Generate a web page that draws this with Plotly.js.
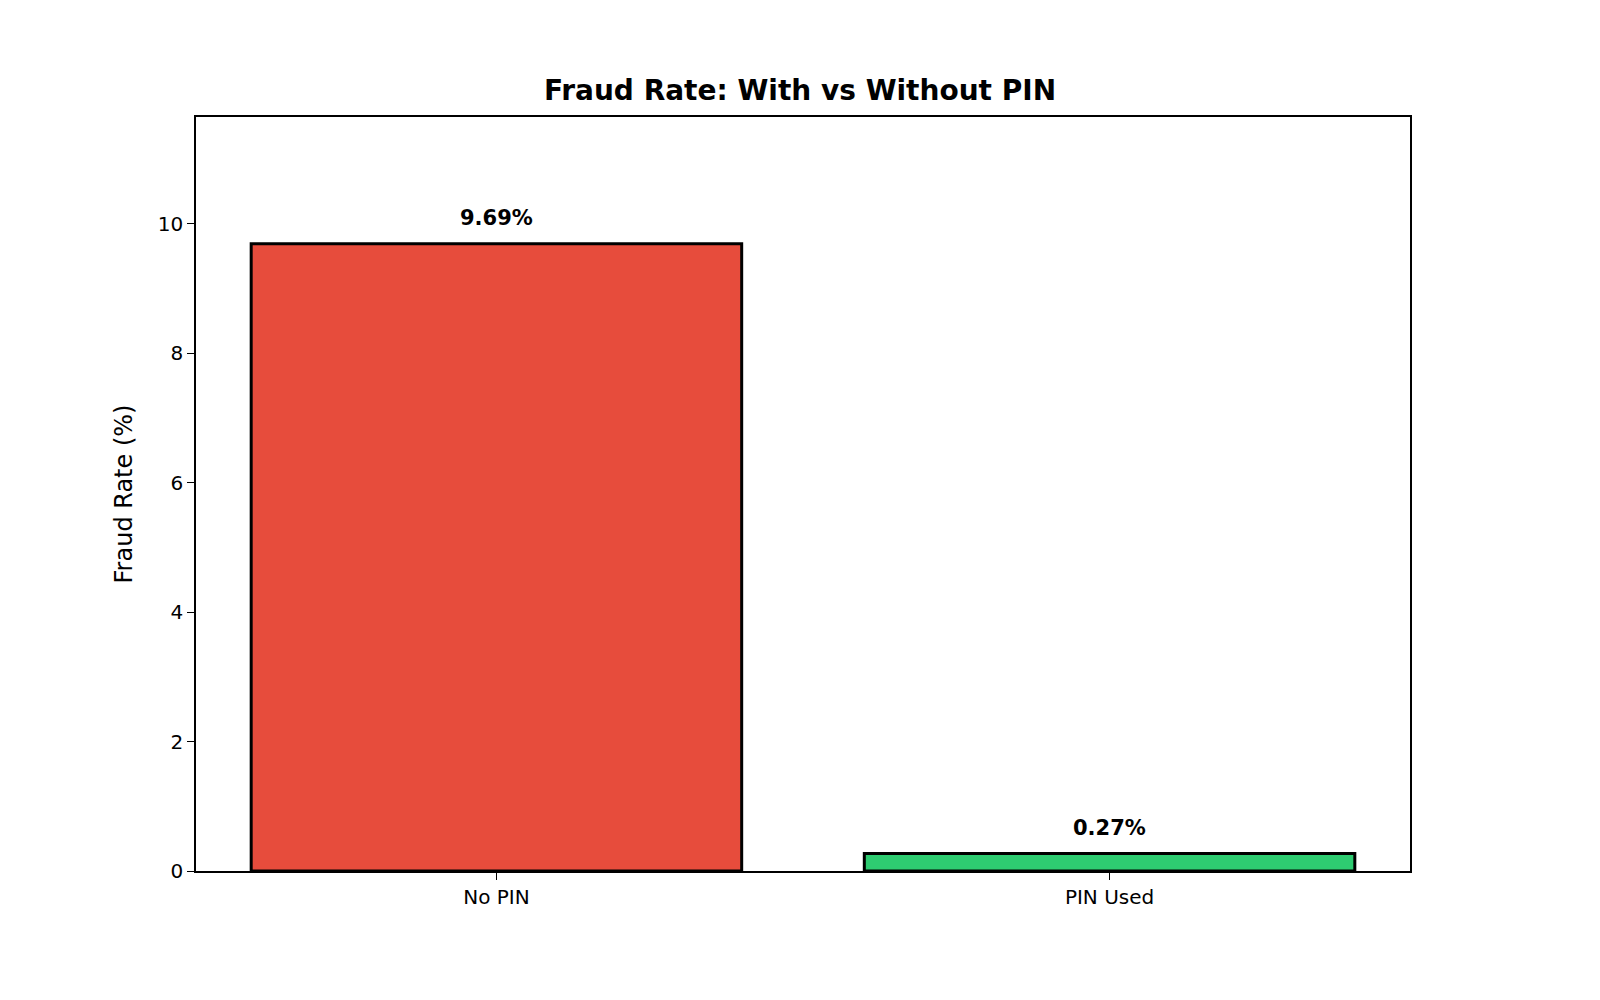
<!DOCTYPE html>
<html><head><script src="https://cdn.plot.ly/plotly-3.0.1.min.js"></script>
<style>body{margin:0}</style></head><body>
<div id="c" style="width:1600px;height:1000px"></div>
<script>
const categories = ["No PIN", "PIN Used"];
const fraudRate = [9.69, 0.27];
const barColors = ["#e74c3c", "#2ecc71"];
const labels = fraudRate.map(v => v.toFixed(2) + "%");

const trace = {
  type: "bar", x: categories, y: fraudRate, width: 0.8,
  marker: {color: barColors, line: {color: "#000", width: 3}},
  hoverinfo: "none"
};
const annotations = categories.map((c, i) => ({
  x: c, y: fraudRate[i], text: "<b>" + labels[i] + "</b>", showarrow: false,
  yanchor: "bottom", yshift: 12, font: {size: 21, color: "#000"}
}));
const layout = {
  width: 1600, height: 1000,
  margin: {l: 196, r: 190, t: 117, b: 129},
  font: {family: "DejaVu Sans", color: "#000"},
  paper_bgcolor: "#fff", plot_bgcolor: "#fff",
  title: {text: "<b>Fraud Rate: With vs Without PIN</b>", font: {size: 28}, x: 0.5, xanchor: "center", y: 1 - 90/1000, yanchor: "middle"},
  xaxis: {range: [-0.49, 1.49], showline: true, mirror: true, linecolor: "#000", linewidth: 1.5,
    ticks: "outside", ticklen: 7, tickcolor: "#000", tickfont: {size: 20}, showgrid: false},
  yaxis: {range: [0, 11.65], showline: true, mirror: true, linecolor: "#000", linewidth: 1.5,
    ticks: "outside", ticklen: 7, tickcolor: "#000", tickfont: {size: 20}, dtick: 2,
    showgrid: false, zeroline: false,
    title: {text: "Fraud Rate (%)", font: {size: 24}, standoff: 18}},
  annotations: annotations, showlegend: false
};
Plotly.newPlot("c", [trace], layout, {displayModeBar: false});
</script></body></html>
